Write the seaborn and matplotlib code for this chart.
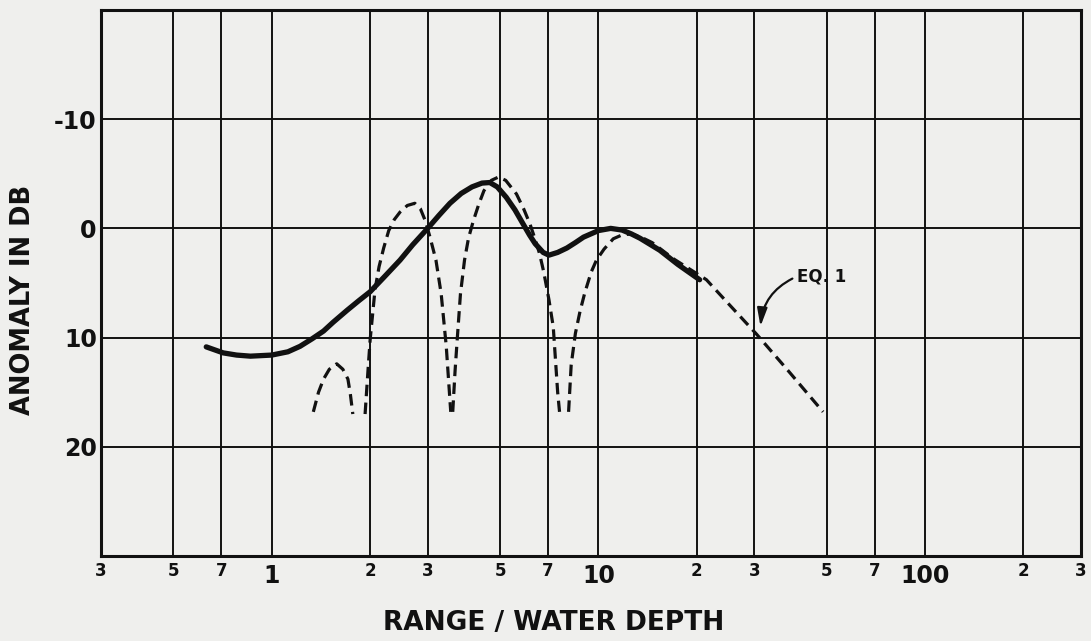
import numpy as np
import pandas as pd
import matplotlib
matplotlib.use("Agg")
import matplotlib.pyplot as plt
import seaborn as sns
from matplotlib.ticker import FixedLocator, FixedFormatter

# ---------------- data ----------------
measured_x = [0.63, 0.71, 0.78, 0.86, 1.0, 1.12, 1.22, 1.33, 1.44, 1.54, 1.7, 1.85,
              2.0, 2.2, 2.47, 2.7, 3.0, 3.25, 3.51, 3.8, 4.1, 4.4, 4.65, 4.9,
              5.22, 5.55, 5.88, 6.15, 6.4, 6.77, 7.05, 7.5, 8.0, 8.5, 9.0, 10.0,
              10.9, 11.8, 12.6, 13.4, 15.4, 17.5, 20.4]
measured_y = [10.85, 11.4, 11.6, 11.7, 11.6, 11.3, 10.8, 10.1, 9.4, 8.6, 7.5, 6.6,
              5.8, 4.5, 2.9, 1.5, 0.0, -1.2, -2.3, -3.2, -3.8, -4.15, -4.2, -3.8,
              -2.85, -1.7, -0.4, 0.6, 1.4, 2.2, 2.45, 2.2, 1.8, 1.3, 0.8, 0.2,
              0.0, 0.15, 0.5, 0.9, 2.0, 3.3, 4.7]

eq1_a_x = [1.34, 1.39, 1.44, 1.5, 1.58, 1.65, 1.71, 1.74, 1.77]
eq1_a_y = [16.8, 15.0, 13.8, 12.9, 12.4, 12.9, 13.8, 15.2, 17.0]

eq1_b_x = [1.93, 1.97, 2.0, 2.07, 2.13, 2.2, 2.28, 2.37, 2.47, 2.6, 2.74, 2.85,
           2.95, 3.05, 3.18, 3.3, 3.42, 3.53]
eq1_b_y = [17.0, 13.0, 10.2, 5.6, 3.5, 1.8, 0.2, -0.8, -1.5, -2.1, -2.3, -1.8,
           -0.7, 0.8, 2.9, 6.0, 10.8, 16.8]

eq1_c_x = [3.58, 3.64, 3.70, 3.78, 3.89, 4.0, 4.14, 4.3, 4.46, 4.7, 4.94, 5.2,
           5.61, 5.9, 6.17, 6.4, 6.6, 6.8, 7.05, 7.27, 7.5, 7.6]
eq1_c_y = [16.8, 13.0, 9.9, 6.0, 2.9, 0.9, -0.7, -2.2, -3.45, -4.4, -4.7, -4.4,
           -3.15, -1.8, -0.4, 1.0, 2.3, 4.0, 6.5, 9.0, 15.0, 16.8]

eq1_d_x = [8.1, 8.25, 8.5, 8.78, 9.08, 9.5, 9.86, 10.4, 11.1, 11.8, 12.6, 13.5,
           14.6, 17.0, 21.4, 25.0, 30.5, 38.0, 48.7]
eq1_d_y = [16.8, 12.5, 9.6, 7.6, 5.9, 4.0, 2.9, 1.9, 0.95, 0.6, 0.5, 0.8,
           1.3, 2.8, 4.7, 6.9, 9.7, 13.0, 16.8]

x_major_ticks = [1, 10, 100]
x_major_labels = ["1", "10", "100"]
x_minor_ticks = [0.3, 0.5, 0.7, 2, 3, 5, 7, 20, 30, 50, 70, 200, 300]
x_minor_labels = ["3", "5", "7", "2", "3", "5", "7", "2", "3", "5", "7", "2", "3"]
y_ticks = [-10, 0, 10, 20]
y_tick_labels = ["-10", "0", "10", "20"]

x_title = "RANGE / WATER DEPTH"
y_title = "ANOMALY IN DB"
annot_text = "EQ. 1"
annot_point = (31.3, 9.1)
annot_text_pos = (40.5, 4.4)

# ---------------- styling ----------------
bg = "#efefed"
ink = "#111111"

sns.set_theme(style="white")
plt.rcParams["font.family"] = ["DejaVu Sans"]
plt.rcParams["font.weight"] = "bold"

fig = plt.figure(figsize=(10.91, 6.41), dpi=100, facecolor=bg)
ax = fig.add_axes([101 / 1091, 1 - 556 / 641, 980 / 1091, 546 / 641])
ax.set_facecolor(bg)
ax.set_xscale("log")

eq1 = pd.concat([
    pd.DataFrame({"x": eq1_a_x, "y": eq1_a_y, "seg": "a"}),
    pd.DataFrame({"x": eq1_b_x, "y": eq1_b_y, "seg": "b"}),
    pd.DataFrame({"x": eq1_c_x, "y": eq1_c_y, "seg": "c"}),
    pd.DataFrame({"x": eq1_d_x, "y": eq1_d_y, "seg": "d"}),
], ignore_index=True)
measured = pd.DataFrame({"x": measured_x, "y": measured_y})

sns.lineplot(data=eq1, x="x", y="y", units="seg", estimator=None, color=ink,
             lw=2.3, linestyle=(0, (3.6, 2.0)), ax=ax, zorder=3)
sns.lineplot(data=measured, x="x", y="y", estimator=None, color=ink,
             lw=3.8, solid_capstyle="round", ax=ax, zorder=4)

ax.set_xlim(0.3, 300)
ax.set_ylim(30, -20)

ax.xaxis.set_major_locator(FixedLocator(x_major_ticks))
ax.xaxis.set_major_formatter(FixedFormatter(x_major_labels))
ax.xaxis.set_minor_locator(FixedLocator(x_minor_ticks))
ax.xaxis.set_minor_formatter(FixedFormatter(x_minor_labels))
ax.yaxis.set_major_locator(FixedLocator(y_ticks))
ax.yaxis.set_major_formatter(FixedFormatter(y_tick_labels))

ax.tick_params(axis="x", which="major", length=0, labelsize=17, pad=6, colors=ink)
ax.tick_params(axis="x", which="minor", length=0, labelsize=12, pad=4, colors=ink)
ax.tick_params(axis="y", which="major", length=0, labelsize=17, pad=3, colors=ink)
for lbl in ax.get_xticklabels(which="both") + ax.get_yticklabels():
    lbl.set_fontweight("bold")

ax.grid(True, which="both", axis="x", color=ink, lw=1.4)
ax.grid(True, which="major", axis="y", color=ink, lw=1.4)
ax.set_axisbelow(True)
for sp in ax.spines.values():
    sp.set_visible(True)
    sp.set_color(ink)
    sp.set_linewidth(2.2)

ax.set_xlabel("")
ax.set_ylabel("")
fig.text(553.5 / 1091, 1 - 623 / 641, x_title, ha="center", va="center",
         fontsize=19, fontweight="bold", color=ink)
fig.text(23 / 1091, 1 - 300 / 641, y_title, ha="center", va="center",
         rotation=90, fontsize=18.5, fontweight="bold", color=ink)

ax.annotate(annot_text, xy=annot_point, xytext=annot_text_pos,
            ha="left", va="center", fontsize=12, fontweight="bold", color=ink,
            arrowprops=dict(arrowstyle="-|>,head_length=0.9,head_width=0.25",
                            color=ink, lw=1.6, relpos=(0, 0.5),
                            connectionstyle="arc3,rad=0.3", shrinkA=1, shrinkB=1))

fig.savefig("out.png", dpi=100, facecolor=bg)
